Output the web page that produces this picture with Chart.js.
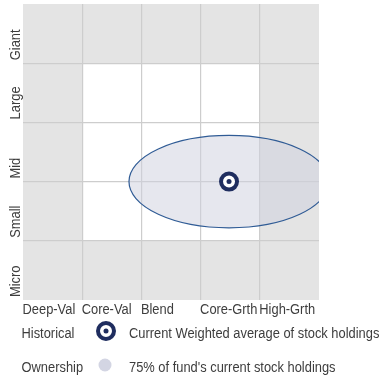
<!DOCTYPE html>
<html>
<head>
<meta charset="utf-8">
<script src="https://cdn.jsdelivr.net/npm/chart.js@4"></script>
<style>
  html, body { margin: 0; padding: 0; background: #fff; }
  #wrap { width: 383px; height: 376px; position: relative; }
</style>
</head>
<body>
<div id="wrap"><canvas id="styleBox"></canvas></div>
<script>
const styleCols = ["Deep-Val", "Core-Val", "Blend", "Core-Grth", "High-Grth"];
const sizeRows = ["Micro", "Small", "Mid", "Large", "Giant"];

// weighted average of holdings: [style, size] on the 0..5 grid
const centroid = [3.48, 2.0];
// ownership zone (75% of holdings): centre and half-spread in grid units
const zoneCenter = [3.48, 2.0];
const zoneSpread = [1.69, 0.78];

// cells shaded white (the core 3x3 block), as [col, row]
const whiteCells = [
  [1, 1], [2, 1], [3, 1],
  [1, 2], [2, 2], [3, 2],
  [1, 3], [2, 3], [3, 3]
];

const legendRows = [
  ["Historical", "Current Weighted average of stock holdings"],
  ["Ownership", "75% of fund's current stock holdings"]
];

const FONT = '14px "Liberation Sans", Arial, sans-serif';
const NARROW = 0.92; // squeeze text horizontally for a condensed look
const TEXT = "#3d3d3d";
const NAVY = "#1f2d5f";

function narrowText(ctx, str, x, y, rot) {
  ctx.save();
  ctx.translate(x, y);
  if (rot) ctx.rotate(rot);
  ctx.scale(NARROW, 1);
  ctx.fillText(str, 0, 0);
  ctx.restore();
}

////////////////////////////////
// cell backgrounds
////////////////////////////////
const cellsPlugin = {
  id: "cells",
  beforeDraw(chart) {
    const { ctx, chartArea: a, scales: { x, y } } = chart;
    ctx.save();
    ctx.fillStyle = "#e4e4e4";
    ctx.fillRect(a.left, a.top, a.right - a.left, a.bottom - a.top);
    ctx.fillStyle = "#fff";
    whiteCells.forEach(([c, r]) => {
      const x0 = x.getPixelForValue(c), x1 = x.getPixelForValue(c + 1);
      const y0 = y.getPixelForValue(r + 1), y1 = y.getPixelForValue(r);
      ctx.fillRect(x0, y0, x1 - x0, y1 - y0);
    });
    ctx.restore();
  }
};

////////////////////////////////
// ownership zone ellipse
////////////////////////////////
const zonePlugin = {
  id: "zone",
  beforeDatasetsDraw(chart) {
    const { ctx, chartArea: a, scales: { x, y } } = chart;
    const cx = x.getPixelForValue(zoneCenter[0]);
    const cy = y.getPixelForValue(zoneCenter[1]);
    const rx = x.getPixelForValue(zoneCenter[0] + zoneSpread[0]) - cx;
    const ry = cy - y.getPixelForValue(zoneCenter[1] + zoneSpread[1]);
    ctx.save();
    ctx.beginPath();
    ctx.rect(a.left, a.top, a.right - a.left, a.bottom - a.top);
    ctx.clip();
    ctx.beginPath();
    ctx.ellipse(cx, cy, rx, ry, 0, 0, Math.PI * 2);
    ctx.fillStyle = "rgba(207, 209, 222, 0.52)";
    ctx.fill();
    ctx.lineWidth = 1.2;
    ctx.strokeStyle = "#2f5b95";
    ctx.stroke();
    ctx.restore();
  }
};

////////////////////////////////
// axis labels + legend
////////////////////////////////
const labelsPlugin = {
  id: "labels",
  afterDraw(chart) {
    const { ctx, chartArea: a, scales: { x, y } } = chart;
    ctx.save();
    ctx.fillStyle = TEXT;
    ctx.font = FONT;
    ctx.textAlign = "left";
    ctx.textBaseline = "alphabetic";

    // column labels, left aligned to each column
    styleCols.forEach((lbl, i) => {
      narrowText(ctx, lbl, x.getPixelForValue(i) - 0.5, a.bottom + 14);
    });

    // row labels, rotated, starting at the bottom of each row
    sizeRows.forEach((lbl, i) => {
      narrowText(ctx, lbl, a.left - 3.5, y.getPixelForValue(i) - 3, -Math.PI / 2);
    });

    // legend
    const lx = a.left - 1.5, ix = 106, tx = 129;
    const rowY = [a.bottom + 38, a.bottom + 72];
    legendRows.forEach(([name, desc], i) => {
      narrowText(ctx, name, lx, rowY[i]);
      narrowText(ctx, desc, tx, rowY[i]);
    });

    // target icon
    let cy = rowY[0] - 7;
    ctx.beginPath();
    ctx.arc(ix, cy, 8, 0, Math.PI * 2);
    ctx.fillStyle = "#fff";
    ctx.fill();
    ctx.lineWidth = 4;
    ctx.strokeStyle = NAVY;
    ctx.stroke();
    ctx.beginPath();
    ctx.arc(ix, cy, 2.5, 0, Math.PI * 2);
    ctx.fillStyle = NAVY;
    ctx.fill();

    // zone dot
    cy = rowY[1] - 7;
    ctx.beginPath();
    ctx.arc(ix - 1, cy, 6.5, 0, Math.PI * 2);
    ctx.fillStyle = "#d3d5e3";
    ctx.fill();
    ctx.restore();
  }
};

const gridColor = (c) => (c.tick.value === 0 || c.tick.value === 5) ? "rgba(0,0,0,0)" : "#cdcdcd";

new Chart(document.getElementById("styleBox"), {
  type: "scatter",
  data: {
    datasets: [
      {
        // centre dot, drawn on top
        data: [{ x: centroid[0], y: centroid[1] }],
        order: 0,
        pointRadius: 2.5,
        pointBorderWidth: 0,
        pointBackgroundColor: NAVY,
        pointHoverRadius: 2.5
      },
      {
        // navy ring
        data: [{ x: centroid[0], y: centroid[1] }],
        order: 1,
        pointRadius: 8,
        pointBorderWidth: 4,
        pointBackgroundColor: "#fff",
        pointBorderColor: NAVY,
        pointHoverRadius: 8
      }
    ]
  },
  options: {
    responsive: true,
    maintainAspectRatio: false,
    animation: false,
    layout: { autoPadding: false, padding: { left: 23, top: 4, right: 64, bottom: 76 } },
    plugins: { legend: { display: false }, tooltip: { enabled: false } },
    scales: {
      x: {
        type: "linear", min: 0, max: 5,
        ticks: { display: false, stepSize: 1 },
        border: { display: false },
        grid: { drawTicks: false, lineWidth: 1.2, color: gridColor }
      },
      y: {
        type: "linear", min: 0, max: 5,
        ticks: { display: false, stepSize: 1 },
        border: { display: false },
        grid: { drawTicks: false, lineWidth: 1.2, color: gridColor }
      }
    }
  },
  plugins: [cellsPlugin, zonePlugin, labelsPlugin]
});
</script>
</body>
</html>
